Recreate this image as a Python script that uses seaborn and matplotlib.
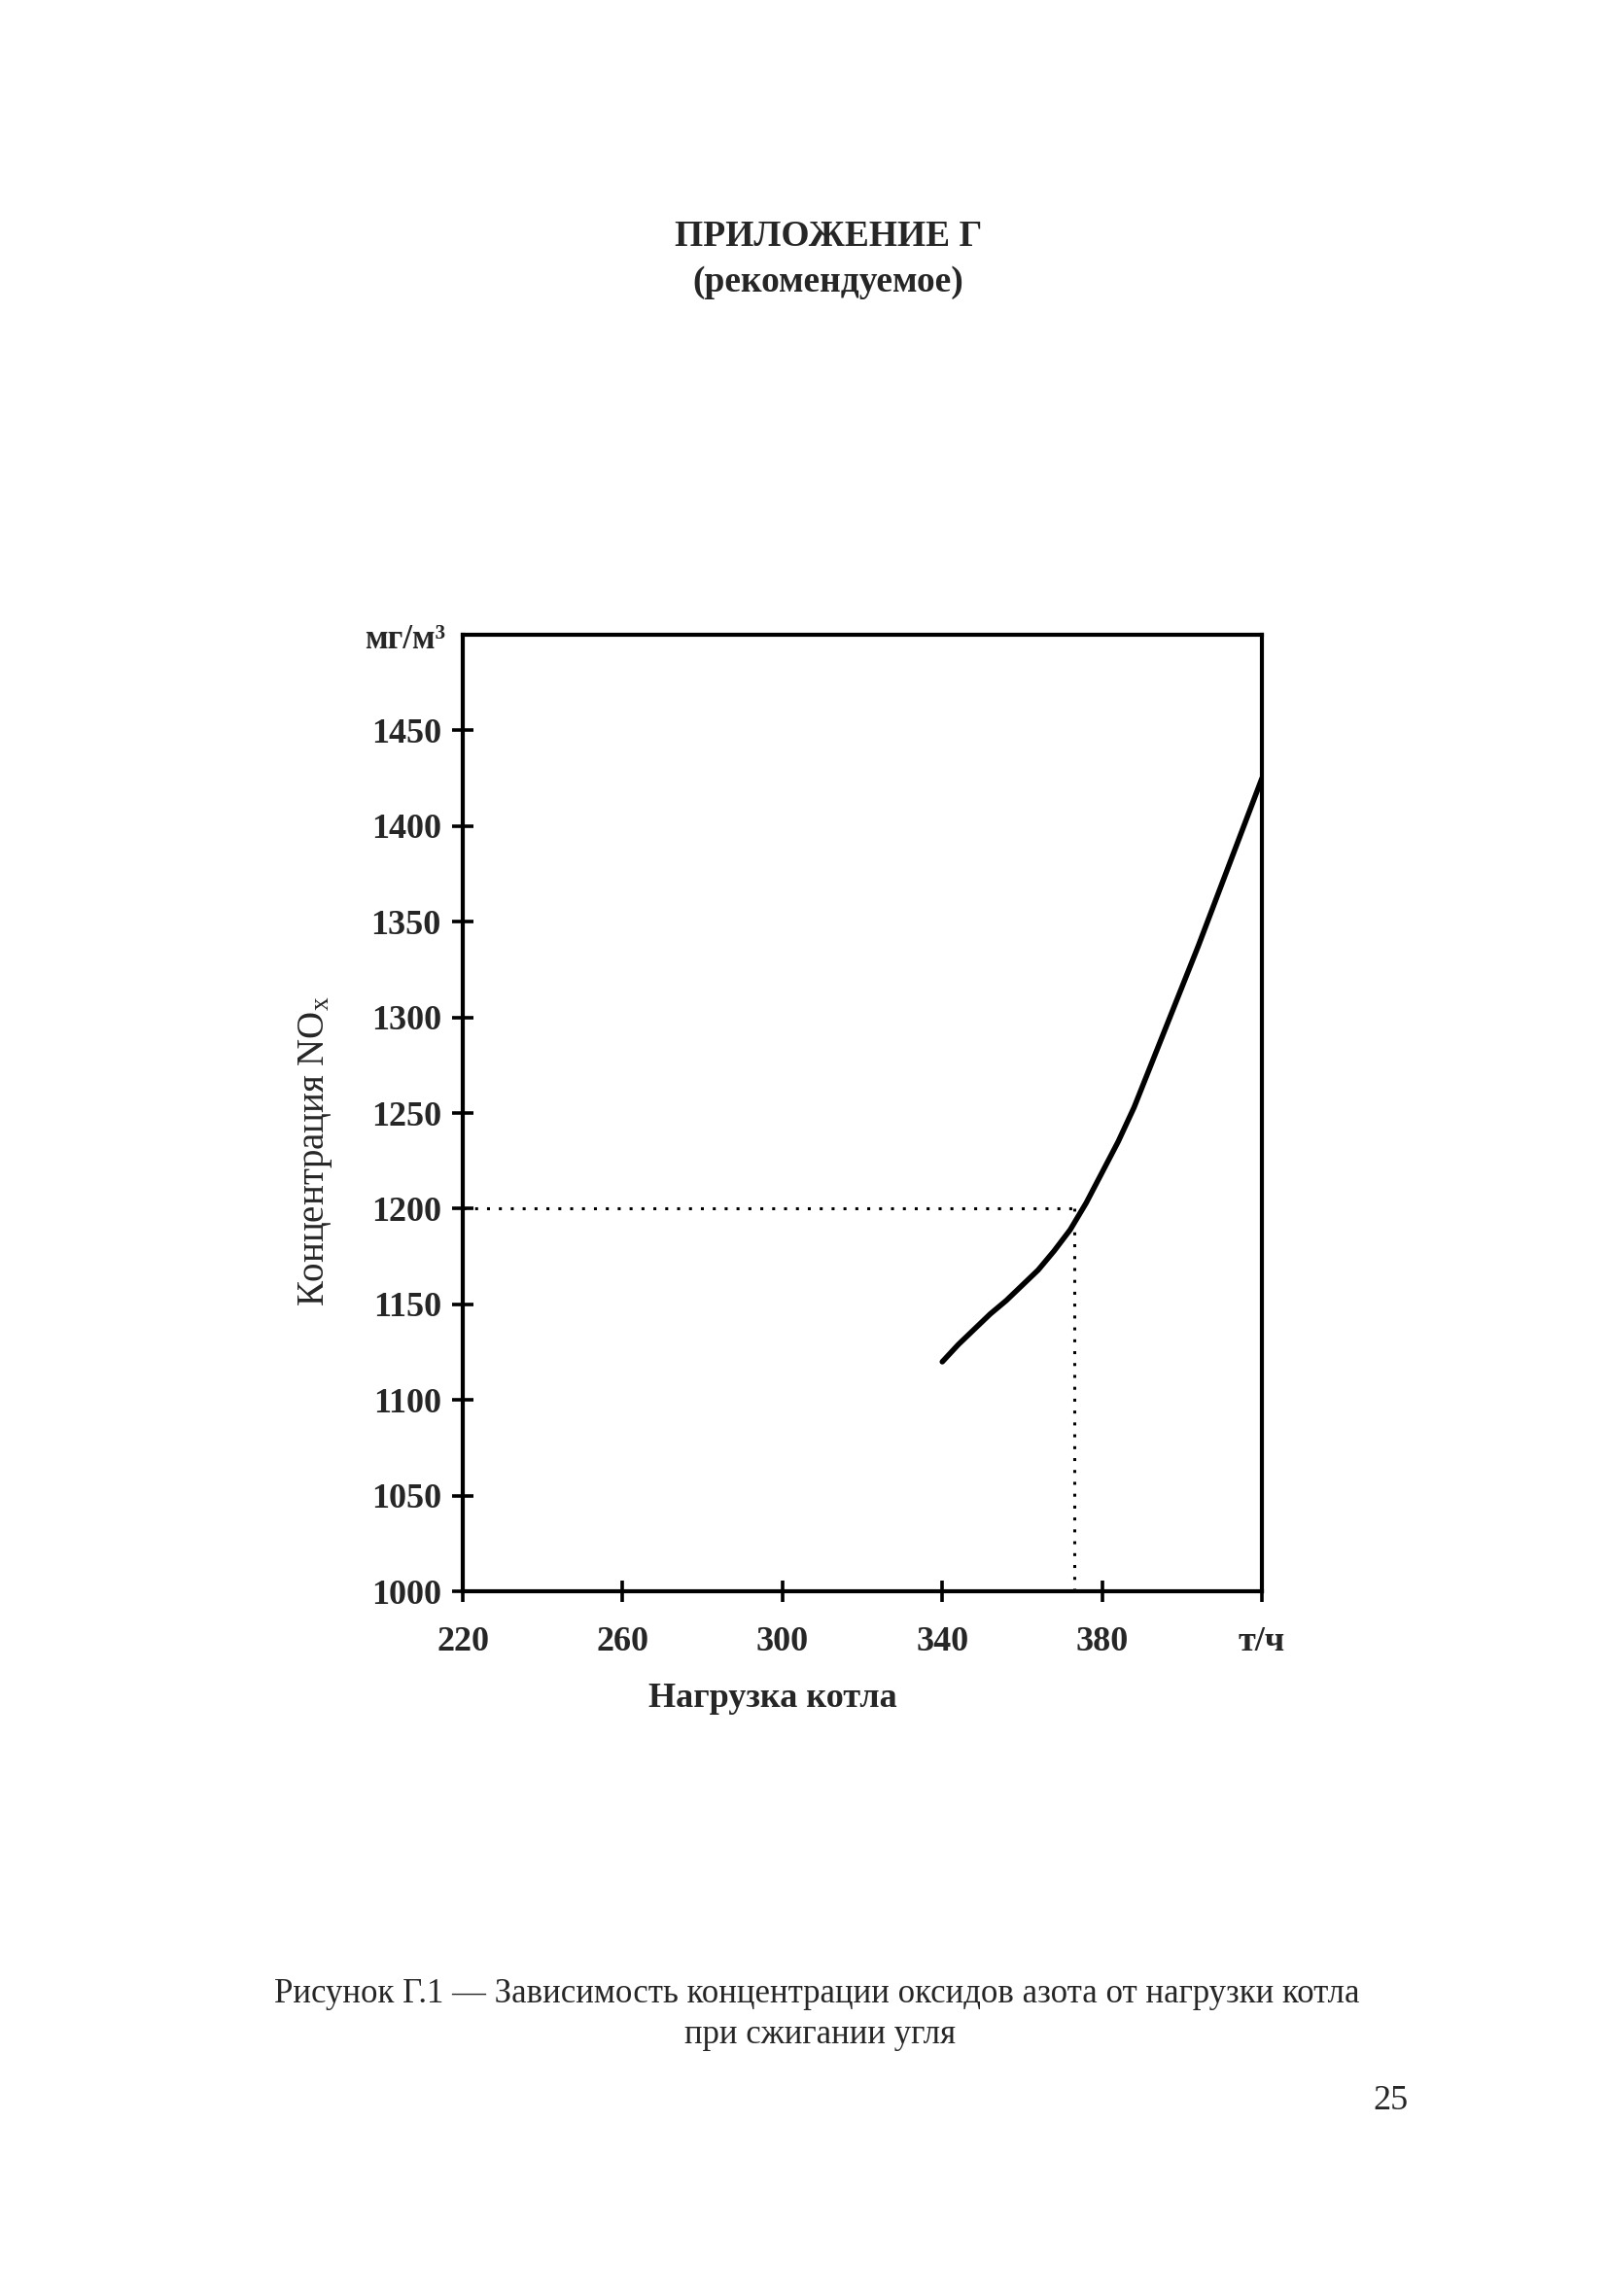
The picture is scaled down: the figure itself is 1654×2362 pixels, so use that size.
import matplotlib
matplotlib.use("Agg")
import matplotlib.pyplot as plt
import seaborn as sns
import pandas as pd

# ---- data ----
load = [340, 344, 348, 352, 356, 360, 364, 368, 372, 376, 380, 384, 388, 392,
        396, 400, 404, 408, 412, 416, 420]
nox = [1120, 1129, 1137, 1145, 1152, 1160, 1168, 1178, 1189, 1203, 1219, 1235,
       1253, 1274, 1295, 1316, 1337, 1359, 1381, 1403, 1425]
x_ticks = [220, 260, 300, 340, 380, 420]
x_tick_labels = ["220", "260", "300", "340", "380", "т/ч"]
y_ticks = [1000, 1050, 1100, 1150, 1200, 1250, 1300, 1350, 1400, 1450]
ref_load = 373
ref_nox = 1200

sns.set_style("ticks")
plt.rcParams["font.family"] = ["Liberation Serif", "DejaVu Serif"]
plt.rcParams["mathtext.fontset"] = "custom"
plt.rcParams["mathtext.rm"] = "Liberation Serif"
plt.rcParams["mathtext.it"] = "Liberation Serif:italic"
plt.rcParams["mathtext.bf"] = "Liberation Serif:bold"

fig = plt.figure(figsize=(1654 / 200, 2362 / 200), dpi=200)
ax = fig.add_axes([0.2878, 0.3069, 0.4970, 0.4166])

df = pd.DataFrame({"load": load, "nox": nox})
sns.lineplot(data=df, x="load", y="nox", ax=ax, color="black", linewidth=2.0)

# reference dotted lines
ax.plot([220, ref_load], [ref_nox, ref_nox], color="black", linewidth=1.1,
        linestyle=(0, (1, 3)))
ax.plot([ref_load, ref_load], [1000, ref_nox], color="black", linewidth=1.1,
        linestyle=(0, (1, 3)))

ax.set_xlim(220, 420)
ax.set_ylim(1000, 1500)
ax.set_xticks(x_ticks)
ax.set_xticklabels(x_tick_labels, fontweight="bold", fontsize=13)
ax.set_yticks(y_ticks)
ax.set_yticklabels([str(v) for v in y_ticks], fontweight="bold", fontsize=13)
ax.tick_params(axis="both", direction="inout", length=8, width=1.3, color="black")
ax.tick_params(axis="x", pad=9)
ax.tick_params(axis="y", pad=4)

for s in ax.spines.values():
    s.set_visible(True)
    s.set_linewidth(1.5)
    s.set_color("black")

ax.set_xlabel("Нагрузка котла", fontweight="bold", fontsize=13, labelpad=10)
ax.xaxis.set_label_coords(0.388, -0.095)
ax.set_ylabel("Концентрация NO$_{\\mathrm{x}}$", fontsize=14, labelpad=14)
ax.yaxis.set_label_coords(-0.16, 0.46)

ax.text(-0.022, 0.995, "мг/м³", transform=ax.transAxes, ha="right",
        va="center", fontsize=12.5, fontweight="bold")

fig.text(0.515, 0.897, "ПРИЛОЖЕНИЕ Г", ha="center", va="center",
         fontsize=13.5, fontweight="bold")
fig.text(0.515, 0.877, "(рекомендуемое)", ha="center", va="center",
         fontsize=13.5, fontweight="bold")

fig.text(0.508, 0.1315, "Рисунок Г.1 — Зависимость концентрации оксидов азота от нагрузки котла",
         ha="center", va="center", fontsize=12.5)
fig.text(0.51, 0.1137, "при сжигании угля", ha="center", va="center", fontsize=12.5)
fig.text(0.865, 0.085, "25", ha="center", va="center", fontsize=13)

fig.savefig("out.png", dpi=200, facecolor="white")
